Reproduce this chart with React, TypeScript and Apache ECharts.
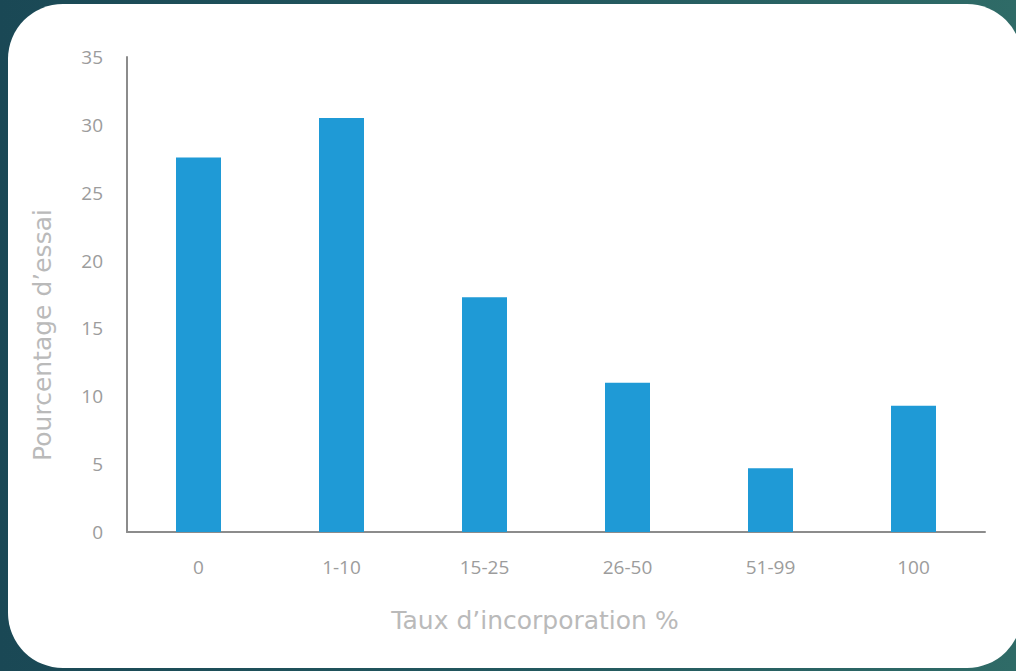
import React, { useEffect, useRef } from "react";
import * as echarts from "echarts";

const categories = ["0", "1-10", "15-25", "26-50", "51-99", "100"];
const values = [27.6, 30.5, 17.3, 11.0, 4.7, 9.3];
const yTicks = { min: 0, max: 35, interval: 5 };
const xTitle = "Taux d\u2019incorporation %";
const yTitle = "Pourcentage d\u2019essai";

export default function App() {
  const ref = useRef<HTMLDivElement>(null);
  useEffect(() => {
    if (!ref.current) return;
    const chart = echarts.init(ref.current, undefined, { renderer: "svg" });
    chart.setOption({
      animation: false,
      grid: { left: 127, right: 31, top: 57, bottom: 139, containLabel: false },
      graphic: [
        {
          type: "text",
          x: 42,
          y: 335,
          rotation: Math.PI / 2,
          style: {
            text: yTitle,
            fill: "#bababa",
            font: "25px 'DejaVu Sans'",
            align: "center",
            verticalAlign: "middle",
          },
        },
        {
          type: "text",
          x: 535,
          y: 620,
          style: {
            text: xTitle,
            fill: "#bababa",
            font: "25px 'DejaVu Sans'",
            align: "center",
            verticalAlign: "middle",
          },
        },
      ],
      xAxis: {
        type: "category",
        data: categories,
        axisLine: { lineStyle: { color: "#8c8c8c", width: 2 } },
        axisTick: { show: false },
        axisLabel: { color: "#9c9c9c", fontSize: 19, margin: 25, fontFamily: "Open Sans" },
      },
      yAxis: {
        type: "value",
        min: yTicks.min,
        max: yTicks.max,
        interval: yTicks.interval,
        axisLine: { show: true, lineStyle: { color: "#8c8c8c", width: 2 } },
        axisTick: { show: false },
        splitLine: { show: false },
        axisLabel: { color: "#9c9c9c", fontSize: 19, margin: 24, fontFamily: "Open Sans" },
      },
      series: [
        {
          type: "bar",
          data: values,
          barWidth: 45,
          itemStyle: { color: "#1f9ad6" },
        },
      ],
    });
    return () => chart.dispose();
  }, []);
  return (
    <div
      style={{
        position: "fixed",
        left: 0,
        top: 0,
        width: 1016,
        height: 671,
        overflow: "hidden",
        background: "linear-gradient(90deg, #1a4855 0%, #22575e 50%, #2f6b67 100%)",
      }}
    >
      <div
        style={{
          position: "absolute",
          left: 8,
          top: 4,
          width: 1014,
          height: 664,
          borderRadius: 55,
          background: "#ffffff",
        }}
      />
      <div
        ref={ref}
        style={{ position: "absolute", left: 0, top: 0, width: 1016, height: 671 }}
      />
    </div>
  );
}
